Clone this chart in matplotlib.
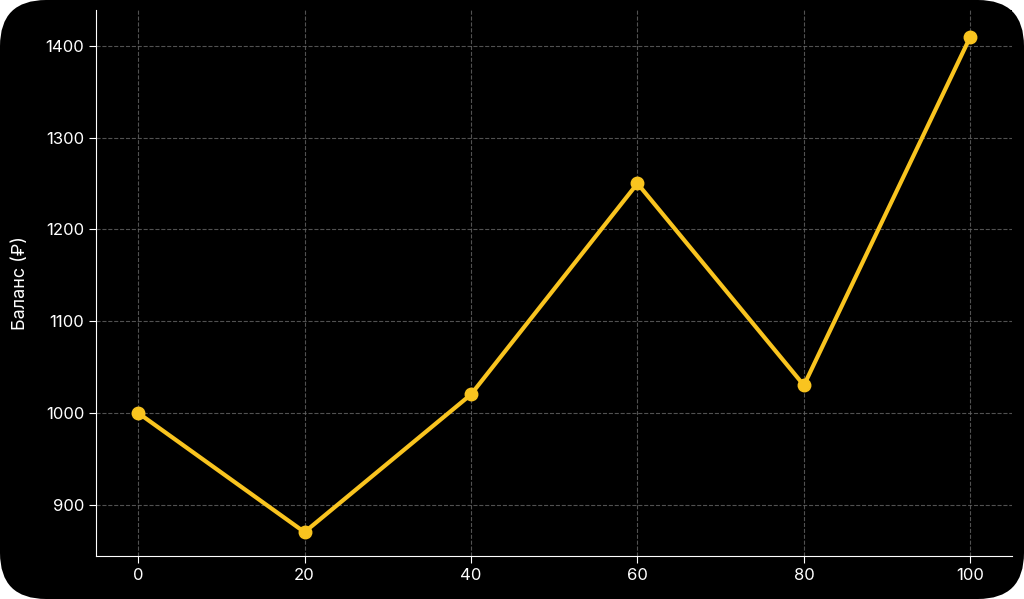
import matplotlib
matplotlib.use("Agg")
import matplotlib.pyplot as plt
from matplotlib.patches import FancyBboxPatch

# данные
steps = [0, 20, 40, 60, 80, 100]
balance = [1000, 870, 1020, 1250, 1030, 1410]
yticks = [900, 1000, 1100, 1200, 1300, 1400]

plt.rcParams["font.family"] = ["Inter", "DejaVu Sans"]

fig = plt.figure(figsize=(10.24, 5.99), dpi=100, facecolor="white")
# чёрная подложка со скруглёнными углами
bg = FancyBboxPatch((0, 0), 1, 1, boxstyle="round,pad=0,rounding_size=0.045",
                    transform=fig.transFigure, facecolor="black", edgecolor="none",
                    mutation_aspect=1024 / 599, zorder=-10)
fig.patches.append(bg)

ax = fig.add_axes([96 / 1024, 43 / 599, 916 / 1024, 546 / 599])
ax.set_facecolor("black")
ax.plot(steps, balance, color="#f9c41f", linewidth=3, marker="o", markersize=9)

ax.set_xlim(-5.05, 105)
ax.set_ylim(844, 1439)
ax.set_xticks(steps)
ax.set_yticks(yticks)
ax.set_ylabel("Баланс (₽)", color="white", fontsize=13, labelpad=12)
ax.tick_params(colors="white", labelsize=12, length=5)
for s in ["top", "right"]:
    ax.spines[s].set_visible(False)
for s in ["left", "bottom"]:
    ax.spines[s].set_color("white")
ax.grid(True, color="#666666", linestyle="--", linewidth=0.8, alpha=0.8)

fig.savefig("out.png", dpi=100, facecolor="white")
